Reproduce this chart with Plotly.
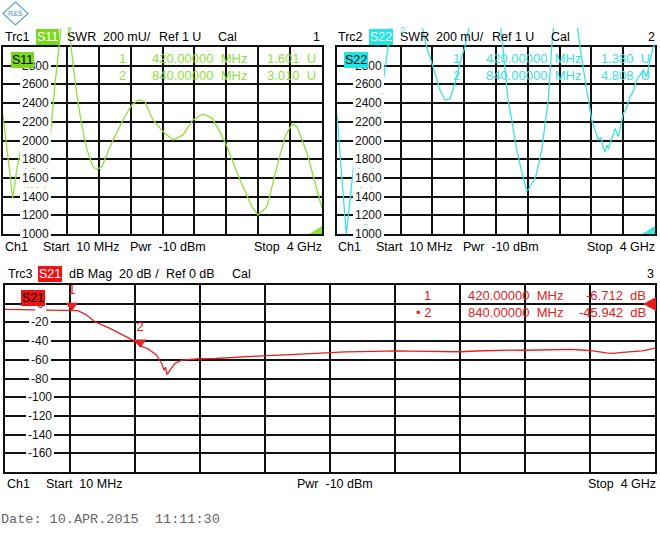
import plotly.graph_objects as go

W, H = 660, 543
FONT = "Liberation Sans, Arial, sans-serif"
MONO = "Liberation Mono, Courier New, monospace"

# ---------------- data ----------------
f_start, f_stop = 0.01, 4.0   # GHz

s11_freq = [0.01, 0.0725, 0.131, 0.185, 0.244, 0.273, 0.31, 0.356, 0.398, 0.42, 0.46, 0.494,
            0.535, 0.598, 0.66, 0.71, 0.748, 0.798, 0.836, 0.861, 0.936, 0.998, 1.061, 1.136,
            1.182, 1.248, 1.348, 1.43, 1.511, 1.62, 1.702, 1.786, 1.886, 2.011, 2.136, 2.261,
            2.386, 2.511, 2.624, 2.72, 2.812, 2.974, 3.124, 3.2, 3.312, 3.437, 3.537, 3.625,
            3.687, 3.812, 3.9, 4.0]
s11_swr = [2270, 1800, 1385, 1700, 1960, 1900, 1550, 1330, 1820, 1601, 1380, 1200,
           1500, 2000, 2600, 3000, 3300, 3400, 3200, 3000, 2470, 2150, 1900, 1720,
           1692, 1720, 1934, 2080, 2220, 2380, 2434, 2415, 2220, 2095, 2006, 2060,
           2220, 2284, 2240, 2100, 1934, 1578, 1292, 1203, 1292, 1720, 2040, 2177,
           2148, 1866, 1600, 1275]

s22_freq = [0.01, 0.127, 0.245, 0.299, 0.336, 0.37, 0.399, 0.42, 0.462, 0.503, 0.587, 0.65,
            0.70, 0.926, 1.135, 1.214, 1.302, 1.365, 1.428, 1.491, 1.575, 1.616, 1.679, 1.867,
            2.055, 2.093, 2.156, 2.202, 2.265, 2.327, 2.39, 2.419, 2.453, 2.482, 2.515, 2.578,
            2.62, 2.661, 2.704, 2.745, 2.934, 3.06, 3.143, 3.206, 3.247, 3.289, 3.323, 3.348,
            3.373, 3.398, 3.417, 3.436, 3.474, 3.499, 3.54, 3.568, 3.603, 3.636, 3.687, 3.724,
            3.77, 3.812, 3.853, 3.896, 3.937, 3.975, 4.0]
s22_swr = [2273, 990, 1940, 1600, 1250, 1010, 1200, 1380, 1650, 1900, 2615, 3000,
           3300, 3800, 3000, 2790, 2540, 2434, 2445, 2615, 2900, 3000, 3300, 4000,
           3300, 3000, 2434, 2220, 1900, 1667, 1463, 1480, 1545, 1570, 1650, 1900,
           2148, 2434, 3000, 3400, 3800, 3000, 2540, 2220, 2113, 2006, 2030, 1930,
           1880, 1950, 1905, 1970, 2060, 2130, 2040, 2160, 2290, 2330, 2470, 2520,
           2650, 2700, 2755, 2683, 2860, 3000, 3030]

s21_freq = [0.01, 0.1, 0.2, 0.29, 0.36, 0.42, 0.458, 0.511, 0.562, 0.654, 0.757, 0.8, 0.84,
            0.89, 0.941, 0.972, 0.986, 0.996, 1.003, 1.013, 1.023, 1.053, 1.095, 1.15, 1.207,
            1.3, 1.4, 1.5, 1.616, 1.7, 1.8, 1.9, 2.005, 2.1, 2.2, 2.3, 2.414, 2.5, 2.6, 2.7,
            2.803, 2.9, 3.0, 3.11, 3.2, 3.3, 3.4, 3.478, 3.55, 3.62, 3.7, 3.744, 3.8, 3.846,
            3.92, 3.96, 4.0]
s21_db = [-6.0, -6.3, -6.2, -6.8, -6.5, -6.712, -7.5, -12.2, -19.3, -26.4, -35.4, -39.5, -45.0,
          -48.5, -55.0, -64.0, -71.0, -68.0, -75.3, -74.0, -71.0, -64.0, -60.3, -59.5, -58.9,
          -58.6, -57.5, -56.8, -55.5, -55.0, -54.0, -52.8, -51.8, -51.5, -51.2, -50.5, -50.5,
          -50.8, -51.0, -50.9, -51.4, -50.6, -50.0, -49.6, -49.8, -49.2, -49.1, -48.9, -49.5,
          -50.5, -52.5, -53.2, -52.0, -51.5, -50.5, -49.0, -47.5]

marker_freq = [0.42, 0.84]
marker_freq_txt = ["420.00000  MHz", "840.00000  MHz"]
s11_marker_u = [1.601, 3.010]
s22_marker_u = [1.380, 4.808]
s21_marker_db = [-6.712, -45.942]

swr_ticks = [1000, 1200, 1400, 1600, 1800, 2000, 2200, 2400, 2600, 2800]
swr_range = [1000, 3000]
db_ticks = [0, -20, -40, -60, -80, -100, -120, -140, -160]
db_range = [-180, 20]

# ---------------- colours ----------------
GREEN, GREEN_BG = "#8fdf3f", "#7ad81c"
CYAN, CYAN_BG = "#3ee0e0", "#1fe6e6"
RED, RED_BG = "#e42020", "#f01212"


def px(x):
    return x / W


def py(y):
    return 1 - y / H


# panel geometry (pixels)
TL = dict(x0=3, x1=322, y0=47, y1=234)
TR = dict(x0=337, x1=655, y0=47, y1=234)
BT = dict(x0=5, x1=655, y0=285, y1=472)
TRACE_TOP = 28   # analyser lets the SWR traces run up into the header area

div = [f_start + i * (f_stop - f_start) / 10 for i in range(11)]
top_xgrid = [d for i, d in enumerate(div) if i != 1]

tl_h = TL["y1"] - TL["y0"]
bt_h = BT["y1"] - BT["y0"]
swr_per_px = (swr_range[1] - swr_range[0]) / tl_h
swr_ext_range = [swr_range[0], swr_range[1] + (TL["y0"] - TRACE_TOP) * swr_per_px]

fig = go.Figure()

# traces (top ones on extended clip-area axes x4/y4, x5/y5)
fig.add_trace(go.Scatter(x=s11_freq, y=s11_swr, mode="lines", line=dict(color=GREEN, width=1.3),
                         xaxis="x4", yaxis="y4", hoverinfo="skip"))
fig.add_trace(go.Scatter(x=s22_freq, y=s22_swr, mode="lines", line=dict(color=CYAN, width=1.3),
                         xaxis="x5", yaxis="y5", hoverinfo="skip"))
fig.add_trace(go.Scatter(x=s21_freq, y=s21_db, mode="lines", line=dict(color=RED, width=1.3),
                         xaxis="x3", yaxis="y3", hoverinfo="skip"))


def marker_y(v, rng, ppx):
    # clip at top edge and lift so the triangle tip touches the point
    unit_per_px = (rng[1] - rng[0]) / ppx
    return min(v, rng[1]) + 4.5 * unit_per_px


fig.add_trace(go.Scatter(x=marker_freq, y=[marker_y(v * 1000, swr_range, tl_h) for v in s11_marker_u],
                         mode="markers", marker=dict(symbol="triangle-down", size=11, color=GREEN),
                         xaxis="x", yaxis="y", cliponaxis=False, hoverinfo="skip"))
fig.add_trace(go.Scatter(x=marker_freq, y=[marker_y(v * 1000, swr_range, tl_h) for v in s22_marker_u],
                         mode="markers", marker=dict(symbol="triangle-down", size=11, color=CYAN),
                         xaxis="x2", yaxis="y2", cliponaxis=False, hoverinfo="skip"))
fig.add_trace(go.Scatter(x=marker_freq, y=[marker_y(v, db_range, bt_h) for v in s21_marker_db],
                         mode="markers+text", text=["1", "2"], textposition="top center",
                         textfont=dict(color=RED, size=13, family=FONT),
                         marker=dict(symbol="triangle-down", size=11, color=RED),
                         xaxis="x3", yaxis="y3", cliponaxis=False, hoverinfo="skip"))

axis_common = dict(showline=True, linecolor="#111", linewidth=1.8, mirror=True,
                   showgrid=True, gridcolor="#111", gridwidth=1.6, zeroline=False,
                   showticklabels=False, ticks="")
hidden = dict(visible=False, showgrid=False, zeroline=False, showline=False)

layout = dict(
    width=W, height=H, margin=dict(l=0, r=0, t=0, b=0),
    paper_bgcolor="white", plot_bgcolor="rgba(0,0,0,0)", showlegend=False,
    xaxis=dict(domain=[px(TL["x0"]), px(TL["x1"])], range=[f_start, f_stop], tickvals=top_xgrid,
               anchor="y", **axis_common),
    yaxis=dict(domain=[py(TL["y1"]), py(TL["y0"])], range=swr_range,
               tickvals=list(range(1000, 3001, 200)), anchor="x", **axis_common),
    xaxis2=dict(domain=[px(TR["x0"]), px(TR["x1"])], range=[f_start, f_stop], tickvals=top_xgrid,
                anchor="y2", **axis_common),
    yaxis2=dict(domain=[py(TR["y1"]), py(TR["y0"])], range=swr_range,
                tickvals=list(range(1000, 3001, 200)), anchor="x2", **axis_common),
    xaxis3=dict(domain=[px(BT["x0"]), px(BT["x1"])], range=[f_start, f_stop], tickvals=div,
                anchor="y3", **axis_common),
    yaxis3=dict(domain=[py(BT["y1"]), py(BT["y0"])], range=db_range,
                tickvals=list(range(-180, 21, 20)), anchor="x3", **axis_common),
    xaxis4=dict(domain=[px(TL["x0"]), px(TL["x1"])], range=[f_start, f_stop], anchor="y4", **hidden),
    yaxis4=dict(domain=[py(TL["y1"]), py(TRACE_TOP)], range=swr_ext_range, anchor="x4", **hidden),
    xaxis5=dict(domain=[px(TR["x0"]), px(TR["x1"])], range=[f_start, f_stop], anchor="y5", **hidden),
    yaxis5=dict(domain=[py(TR["y1"]), py(TRACE_TOP)], range=swr_ext_range, anchor="x5", **hidden),
)
fig.update_layout(**layout)

ann = []


def txt(x, y, s, color="#000", size=12.5, xanchor="left", bg=None, family=FONT, pad=0):
    d = dict(x=px(x), y=py(y), xref="paper", yref="paper", text=s, showarrow=False,
             xanchor=xanchor, yanchor="middle",
             font=dict(size=size, color=color, family=family), borderpad=pad, borderwidth=0)
    if bg:
        d["bgcolor"] = bg
    ann.append(d)


# y tick labels with white background
for v in swr_ticks:
    ann.append(dict(x=px(35), y=v, xref="paper", yref="y", text=str(v), showarrow=False,
                    xanchor="center", yanchor="middle", bgcolor="white", borderpad=2, borderwidth=0,
                    font=dict(size=12, color="#111", family=FONT)))
    ann.append(dict(x=px(368), y=v, xref="paper", yref="y2", text=str(v), showarrow=False,
                    xanchor="center", yanchor="middle", bgcolor="white", borderpad=2, borderwidth=0,
                    font=dict(size=12, color="#111", family=FONT)))
for v in db_ticks:
    ann.append(dict(x=px(40), y=v, xref="paper", yref="y3", text=str(v), showarrow=False,
                    xanchor="center", yanchor="middle", bgcolor="white", borderpad=2, borderwidth=0,
                    font=dict(size=12, color="#111", family=FONT)))

# headers
for (x0, trc, sp, bgc, num, numx) in [(5, "Trc1", "S11", GREEN_BG, "1", 320),
                                      (338, "Trc2", "S22", CYAN_BG, "2", 655)]:
    y = 36.5
    txt(x0, y, trc)
    txt(x0 + 31, y, sp, color="white", bg=bgc, pad=1)
    txt(x0 + 62, y, "SWR")
    txt(x0 + 98, y, "200 mU/")
    txt(x0 + 154, y, "Ref 1 U")
    txt(x0 + 213, y, "Cal")
    txt(numx, y, num, xanchor="right")
    # in-panel trace label
    txt(x0 + 6, 59.5, sp, color="#000", bg=bgc, pad=1)
    # bottom info line
    yb = 246.5
    txt(x0, yb, "Ch1")
    txt(x0 + 38, yb, "Start  10 MHz")
    txt(x0 + 125, yb, "Pwr  -10 dBm")
    txt(x0 + 317, yb, "Stop  4 GHz", xanchor="right")

# marker readouts top panels
for (x0, col, vals) in [(3, GREEN, s11_marker_u), (337, CYAN, s22_marker_u)]:
    for i, (ft, v) in enumerate(zip(marker_freq_txt, vals)):
        y = 58.5 + i * 17
        txt(x0 + 123, y, str(i + 1), color=col, size=13, xanchor="right")
        txt(x0 + 149, y, ft, color=col, size=13)
        txt(x0 + 313, y, f"{v:.3f}  U", color=col, size=13, xanchor="right")
# little "2" above off-scale marker triangles
txt(69, 30, "2", color=GREEN, size=9, xanchor="center")
txt(402, 30, "2", color=CYAN, size=9, xanchor="center")

# bottom header
yh = 273.5
txt(8, yh, "Trc3")
txt(38, yh, "S21", color="white", bg=RED_BG, pad=1)
txt(69, yh, "dB Mag")
txt(119, yh, "20 dB /")
txt(166, yh, "Ref 0 dB")
txt(232, yh, "Cal")
txt(654, yh, "3", xanchor="right")
txt(21, 298, "S21", color="#000", bg=RED_BG, pad=1)

# bottom marker readouts
for i, (ft, v) in enumerate(zip(marker_freq_txt, s21_marker_db)):
    y = 295.5 + i * 17
    txt(431, y, ("" if i == 0 else "\u2022 ") + str(i + 1), color=RED, size=13, xanchor="right")
    txt(468, y, ft, color=RED, size=13)
    txt(646, y, f"{v:.3f}  dB", color=RED, size=13, xanchor="right")

# bottom info line
yb = 483.5
txt(7, yb, "Ch1")
txt(46, yb, "Start  10 MHz")
txt(297, yb, "Pwr  -10 dBm")
txt(656, yb, "Stop  4 GHz", xanchor="right")

# date
txt(1, 519, "Date: 10.APR.2015  11:11:30", color="#666", size=13.5, family=MONO)

# logo text
ann.append(dict(x=px(15.5), y=py(13.5), xref="paper", yref="paper", text="R&S", showarrow=False,
                font=dict(size=7, color="#4a8fd0", family=FONT), xanchor="center", yanchor="middle"))

fig.update_layout(annotations=ann)


def path(pts):
    s = "M " + " L ".join(f"{px(a):.5f},{py(b):.5f}" for a, b in pts) + " Z"
    return s


shapes = [
    dict(type="path", xref="paper", yref="paper", path=path([(309, 234), (322, 234), (322, 226)]),
         fillcolor=GREEN, line=dict(width=0)),
    dict(type="path", xref="paper", yref="paper", path=path([(642, 234), (655, 234), (655, 226)]),
         fillcolor=CYAN, line=dict(width=0)),
    dict(type="path", xref="paper", yref="paper", path=path([(643, 304), (656, 297), (656, 311)]),
         fillcolor=RED, line=dict(width=0)),
    dict(type="path", xref="paper", yref="paper", path=path([(3, 13.5), (15.5, 2), (28, 13.5), (15.5, 25)]),
         fillcolor="rgba(0,0,0,0)", line=dict(width=1.2, color="#5a9fe0")),
]
fig.update_layout(shapes=shapes)

fig.write_html("out.html")
